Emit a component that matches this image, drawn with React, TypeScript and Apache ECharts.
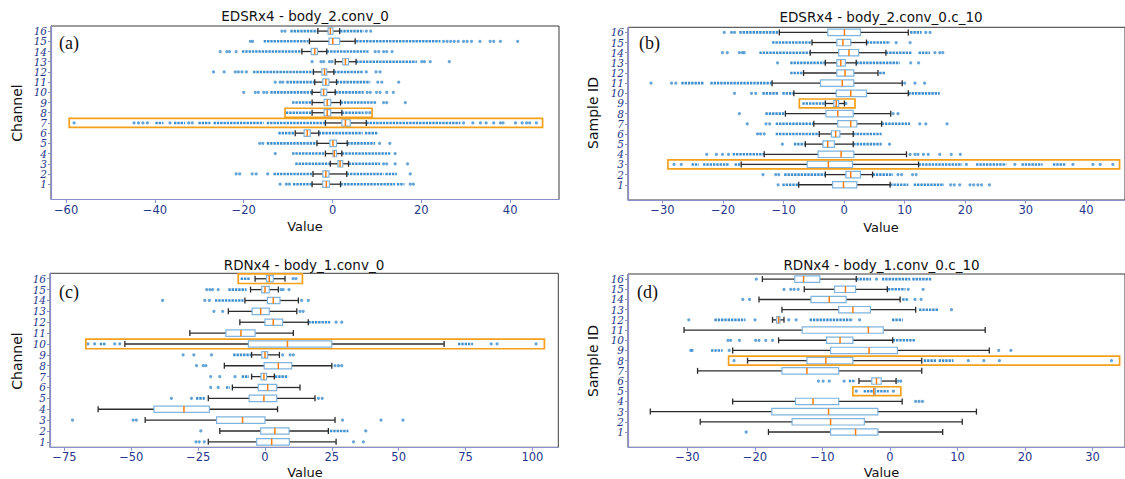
import React, { useEffect, useRef } from 'react';
import * as echarts from 'echarts';

// ---------- tick labels ----------
const rowLabels = ['1', '2', '3', '4', '5', '6', '7', '8', '9', '10', '11', '12', '13', '14', '15', '16'];
const xTicksA = [-60, -40, -20, 0, 20, 40];
const xTicksB = [-30, -20, -10, 0, 10, 20, 30, 40];
const xTicksC = [-75, -50, -25, 0, 25, 50, 75, 100];
const xTicksD = [-30, -20, -10, 0, 10, 20, 30];

// ---------- panel (a) EDSRx4 - body_2.conv_0 ----------
// [row, whiskerLow, q1, median, q3, whiskerHigh]
const boxA = [
  [16, -3.3, -1.0, -0.5, 0.1, 1.6], [15, -5.2, -0.8, 0.05, 1.6, 5.1], [14, -6.9, -4.8, -4.0, -3.4, -1.3],
  [13, 0.6, 2.3, 2.9, 3.6, 5.3], [12, -4.3, -2.4, -1.8, -1.3, 0.3], [11, -4.0, -2.2, -1.5, -0.8, 0.9],
  [10, -4.6, -2.6, -2.0, -1.3, 0.6], [9, -4.6, -1.9, -1.2, -0.4, 1.8], [8, -4.6, -1.9, -1.2, -0.4, 2.1],
  [7, -1.6, 2.1, 2.9, 4.0, 7.6], [6, -8.4, -6.4, -5.7, -5.0, -3.1], [5, -3.5, -0.6, 0.1, 0.9, 3.3],
  [4, -1.6, 0.1, 0.4, 0.9, 2.1], [3, -0.5, 1.2, 1.7, 2.3, 3.6], [2, -4.4, -2.2, -1.5, -0.8, 3.2],
  [1, -4.6, -2.2, -1.4, -0.7, 1.8],
];
// dense runs of outliers: [row, from, to]
const runsA = [
  [16, -9.5, -3.3], [16, 1.7, 7.0], [15, -15.5, -5.4], [15, 5.3, 24.3], [14, -20.4, -6.9], [14, -1.3, 8.1],
  [13, 5.3, 19.0], [12, -17.9, -4.3], [12, 0.3, 6.8], [11, -10.4, -4.0], [11, 0.9, 8.5],
  [10, -14.0, -4.6], [10, 0.6, 7.0], [9, -9.1, -4.6], [9, 1.8, 10.0], [8, -10.5, -4.6], [8, 2.1, 7.0],
  [7, -39.9, -38.1], [7, -35.7, -33.2], [7, -30.2, -27.5], [7, -26.8, -15.5], [7, -14.8, -1.6], [7, 7.6, 28.8],
  [6, -12.2, -8.4], [6, -3.1, 6.8], [6, 7.3, 10.3], [5, -14.8, -3.5], [5, 3.3, 9.6],
  [4, -9.1, -1.6], [4, 2.1, 13.0], [3, -8.4, -0.5], [3, 3.6, 10.7],
  [2, -13.3, -4.4], [2, 3.2, 11.5], [2, 11.9, 14.5], [1, -8.9, -4.6], [1, 1.8, 14.1], [1, 14.5, 16.2],
];
// single outliers: [row, value]
const pointsA = [
  [16, -11.4], [16, -10.7], [16, 7.6], [16, 8.6],
  [15, -18.5], [15, -18.0], [15, 25.0], [15, 25.8], [15, 26.6], [15, 27.4], [15, 28.3], [15, 29.5], [15, 30.3],
  [15, 31.3], [15, 33.2], [15, 35.5], [15, 36.3], [15, 37.8], [15, 41.7],
  [14, -25.3], [14, -23.8], [14, -23.2], [14, -21.7], [14, 9.6], [14, 10.4], [14, 11.5], [14, 12.2], [14, 13.4],
  [13, -4.6], [13, -2.6], [13, -2.0], [13, -0.7], [13, -0.1], [13, 20.1], [13, 20.7], [13, 22.0], [13, 26.3],
  [12, -26.8], [12, -24.4], [12, -21.9], [12, -21.2], [12, -20.4], [12, -19.4], [12, 7.6], [12, 9.8], [12, 10.7],
  [11, -12.9], [11, -11.8], [11, -11.2], [11, 10.2], [11, 11.1], [11, 14.9],
  [10, -20.0], [10, -17.4], [10, -16.7], [10, -15.5], [10, -14.8], [10, 7.8], [10, 8.5], [10, 9.9], [10, 10.7], [10, 12.2], [10, 13.7],
  [9, 11.5], [9, 12.2], [9, 16.4], [8, 7.6], [8, 8.4],
  [7, -58.2], [7, -44.7], [7, -43.7], [7, -42.7], [7, -41.7], [7, -36.6], [7, -32.4], [7, -31.6],
  [7, 29.5], [7, 31.6], [7, 33.3], [7, 34.6], [7, 36.3], [7, 37.8], [7, 38.4], [7, 41.2], [7, 42.7], [7, 43.7], [7, 44.4], [7, 45.9],
  [5, -16.4], [5, -15.7], [5, 10.6], [5, 12.9], [4, -12.9], [4, 14.1],
  [3, 11.5], [3, 12.2], [3, 14.1], [3, 16.9],
  [2, -21.7], [2, -20.9], [2, -18.1], [2, -17.2], [2, -14.6], [2, 17.5],
  [1, -11.8], [1, -10.4], [1, -9.7], [1, 17.5], [1, 18.2],
];
const highlightA = [[8, -10.7, 8.9], [7, -59.3, 47.3]];

// ---------- panel (b) EDSRx4 - body_2.conv_0.c_10 ----------
const boxB = [
  [16, -10.7, -2.7, 0.05, 2.7, 10.6], [15, -5.3, -1.2, -0.2, 1.1, 3.7], [14, -5.6, -0.9, 0.8, 2.4, 6.9],
  [13, -3.1, -1.2, -0.55, 0.2, 2.0], [12, -6.7, -1.2, 0.15, 1.6, 5.6], [11, -11.9, -3.9, -0.3, 1.6, 9.6],
  [10, -8.3, -1.3, 1.1, 3.7, 10.6], [9, -3.1, -1.7, -1.3, -0.9, 0.05], [8, -9.7, -3.0, -1.05, 1.5, 7.7],
  [7, -5.0, -1.05, 1.1, 2.1, 6.2], [6, -4.1, -2.1, -1.4, -0.7, 1.5], [5, -6.4, -3.5, -2.7, -1.6, 1.5],
  [4, -13.2, -4.3, -0.5, 1.6, 10.3], [3, -17.0, -6.1, -2.6, 1.4, 12.3], [2, -3.1, 0.3, 1.1, 2.7, 4.7],
  [1, -7.5, -1.9, -0.1, 2.1, 7.6],
];
const runsB = [
  [16, -17.3, -10.7], [16, 10.9, 12.8], [15, -11.9, -5.3], [15, 3.7, 7.6],
  [14, -14.0, -5.6], [14, 6.9, 11.2], [14, 12.3, 14.2], [13, -8.9, -3.1], [13, 2.0, 9.2],
  [12, -8.9, -6.7], [12, 5.8, 6.8], [11, -26.9, -23.1], [11, -22.1, -11.9],
  [10, -13.5, -10.8], [10, -10.2, -8.3], [10, 10.6, 15.8], [9, -6.9, -3.1], [8, -13.0, -9.7],
  [7, -11.3, -5.0], [7, 6.2, 10.9], [6, -11.3, -4.1], [6, 1.5, 6.2], [5, -8.3, -6.4], [5, 1.5, 6.2],
  [4, -18.4, -13.2], [3, -25.2, -24.0], [3, -23.3, -19.0], [3, -18.1, -17.0], [3, 12.3, 19.5],
  [3, 21.8, 26.8], [3, 29.3, 32.8], [3, 34.5, 36.7], [2, -9.9, -3.1], [2, 4.7, 8.1],
  [1, -10.2, -7.5], [1, 7.6, 10.6], [1, 11.5, 16.5],
];
const pointsB = [
  [16, -19.8], [16, -18.6], [16, -18.1], [16, 13.5], [16, 14.2], [15, 8.6], [15, 10.9],
  [14, -20.1], [14, -19.3], [14, -17.3], [14, -16.8], [14, -16.5], [14, 15.0], [14, 15.8], [14, 16.3],
  [13, -11.0], [13, 11.0], [13, 12.3],
  [11, -31.9], [11, -28.5], [11, -27.8], [11, 10.0], [11, 11.7], [11, 13.3],
  [10, -18.1], [10, -15.3], [10, -14.6], [9, 0.3], [8, -17.3], [8, 8.1], [8, 8.9],
  [7, -16.0], [7, -12.9], [7, -12.3], [7, 12.5], [7, 13.5], [7, 17.0],
  [6, -14.3], [6, -13.8], [6, -13.2], [5, -10.2], [5, 7.5],
  [4, -22.7], [4, -21.1], [4, -20.1], [4, -19.1], [4, 10.9], [4, 11.7], [4, 12.2], [4, 13.1], [4, 13.9], [4, 15.8], [4, 17.7], [4, 19.2],
  [3, -28.1], [3, -26.9], [3, 20.2], [3, 28.2], [3, 37.8], [3, 41.1], [3, 42.3], [3, 44.4],
  [2, -13.4], [2, -11.3], [2, -10.8], [2, 8.9], [2, 9.5], [2, 11.3], [2, 11.9],
  [1, -10.9], [1, 17.6], [1, 18.2], [1, 19.1], [1, 20.8], [1, 21.4], [1, 22.1], [1, 22.7], [1, 24.0],
];
const highlightB = [[9, -7.4, 1.8], [3, -29.1, 45.5]];

// ---------- panel (c) RDNx4 - body_1.conv_0 ----------
const boxC = [
  [16, -3.7, 0.6, 1.6, 3.1, 7.5], [15, -5.4, -1.2, 0.0, 1.6, 5.0], [14, -7.5, 0.9, 3.1, 5.6, 12.5],
  [13, -13.7, -4.8, -1.6, 1.6, 11.9], [12, -9.4, 0.0, 3.1, 6.6, 16.2], [11, -28.1, -14.6, -9.0, -3.7, 10.6],
  [10, -52.4, -6.2, 8.4, 25.0, 67.0], [9, -5.0, -1.2, 0.0, 1.0, 5.4], [8, -15.2, -0.3, 5.0, 10.0, 25.0],
  [7, -5.0, -1.5, -0.4, 0.6, 3.5], [6, -12.2, -2.5, 1.0, 4.4, 13.1], [5, -21.2, -5.9, -0.4, 4.4, 18.7],
  [4, -62.4, -41.5, -30.3, -20.8, 4.7], [3, -44.8, -18.1, -8.4, 0.0, 26.2], [2, -16.9, -1.6, 3.7, 9.0, 23.7],
  [1, -21.2, -3.1, 2.5, 9.1, 26.6],
];
const runsC = [
  [16, -9.1, -5.6], [15, -13.7, -6.9], [14, -18.7, -8.0], [12, 16.2, 24.4],
  [10, -61.8, -59.3], [10, 72.2, 77.8], [9, -11.9, -5.0], [7, -8.7, -6.0], [7, 3.7, 8.7],
  [6, -14.6, -13.1], [5, -25.8, -22.5], [2, 24.3, 31.2],
];
const pointsC = [
  [16, 10.5], [16, 11.6], [15, -21.8], [15, -20.6], [15, -19.6], [15, -17.5], [15, 6.0], [15, 6.8], [15, 9.0],
  [14, -38.3], [14, -22.5], [14, -20.8], [14, 13.7], [14, 16.2], [13, -19.1], [13, -15.8], [13, 13.1], [13, 14.3],
  [12, 26.6], [12, 28.7], [10, -66.2], [10, -63.7], [10, -56.2], [10, -54.3], [10, 84.6], [10, 86.8], [10, 101.4],
  [9, -30.6], [9, -26.6], [9, -20.0], [9, 6.6], [9, 9.4], [9, 10.6],
  [8, -25.6], [8, -23.1], [8, -22.1], [8, 26.2], [8, 27.5], [8, 28.7],
  [7, -20.3], [7, -16.9], [7, -11.2], [6, -20.3], [6, -17.5], [5, -35.0], [5, -27.5], [5, 20.0], [5, 21.4],
  [3, -72.0], [3, -49.3], [3, -48.1], [3, 29.0], [3, 43.4], [3, 51.6], [2, -24.0], [2, 37.7],
  [1, -25.8], [1, -24.6], [1, -22.7], [1, 33.1], [1, 36.8],
];
const highlightC = [[16, -10.0, 14.0], [10, -67.0, 104.5]];

// ---------- panel (d) RDNx4 - body_1.conv_0.c_10 ----------
const boxD = [
  [16, -18.9, -14.1, -12.8, -10.4, -5.0], [15, -12.7, -8.2, -6.6, -5.1, -0.4], [14, -19.4, -11.7, -9.0, -6.5, 1.5],
  [13, -16.0, -7.6, -5.5, -2.9, 3.8], [12, -17.4, -16.8, -16.5, -16.3, -15.7], [11, -30.5, -13.0, -3.2, -1.0, 14.1],
  [10, -16.5, -9.4, -7.4, -5.5, 0.4], [9, -23.3, -8.8, -3.1, 1.1, 14.7], [8, -21.1, -12.3, -9.5, -5.5, 4.7],
  [7, -28.5, -16.0, -12.3, -7.6, 4.7], [6, -4.6, -2.7, -2.0, -1.3, 0.9], [5, -2.4, -2.4, -2.4, -2.4, -2.4],
  [4, -23.3, -14.0, -11.4, -7.6, 1.8], [3, -35.5, -17.5, -9.1, -1.8, 12.8], [2, -28.1, -14.5, -8.8, -3.8, 10.7],
  [1, -18.0, -8.8, -5.1, -1.8, 7.8],
];
const runsD = [
  [16, -5.0, -2.8], [16, -1.2, 3.0], [16, 3.3, 6.2], [15, -0.3, 2.3], [14, 1.8, 2.8], [13, 4.3, 7.2],
  [12, -26.0, -21.4], [12, -11.9, -5.5], [12, 0.3, 1.9], [10, 0.4, 3.8], [9, -26.5, -24.8],
  [8, 5.0, 6.9], [8, 7.2, 9.4], [6, -6.1, -5.1], [5, -3.9, -0.2],
];
const pointsD = [
  [16, -19.8], [16, -2.0], [15, -15.7], [15, -14.7], [15, -14.2], [15, -13.6], [15, 2.7], [15, 4.9],
  [14, -21.8], [14, -20.8], [14, 3.7], [14, 4.6], [13, 9.1],
  [12, -29.8], [12, -20.0], [12, -15.0], [12, -13.9], [12, -4.5],
  [10, -24.0], [10, -23.6], [10, -22.3], [10, -19.9], [10, -19.4], [10, -18.4], [10, -17.4],
  [9, -29.5], [9, -29.3], [9, -23.8], [9, 16.1], [9, 17.9],
  [8, -23.1], [8, 11.6], [8, 13.9], [8, 16.2], [8, 32.8],
  [6, -10.6], [6, -9.9], [6, -9.0], [6, -6.8], [6, 1.2], [6, 1.6], [5, -5.0], [5, 0.5],
  [4, 3.8], [4, 4.3], [4, 4.8], [1, -21.3],
];
const highlightD = [[8, -23.9, 34.0], [5, -5.5, 1.6]];

// ---------- styles ----------
const FLIER = '#3f8fce';
const BOX = '#7fb4de';
const MEDIAN = '#ff7f0e';
const WHISKER = '#2b2b2b';
const HIGHLIGHT = '#f5a01a';
const AXIS = '#8a8fcc';
const LABEL = '#27378a';

const fmt = (v: number) => (v < 0 ? '\u2212' + Math.abs(v) : String(v));

type PanelDef = {
  boxes: number[][]; runs: number[][]; points: number[][]; highlights: number[][];
  ticks: number[]; min: number; max: number; grid: any; blankRow: boolean;
  title: string; ylabel: string; tag: string;
  titlePos: number[]; xlabelPos: number[]; ylabelPos: number[]; tagPos: number[];
};

const panels: PanelDef[] = [
  {
    boxes: boxA, runs: runsA, points: pointsA, highlights: highlightA, ticks: xTicksA, min: -63.4, max: 51.0,
    grid: { left: 51, top: 26, width: 508, height: 173.5 }, blankRow: true,
    title: 'EDSRx4 - body_2.conv_0', ylabel: 'Channel', tag: '(a)',
    titlePos: [305, 16], xlabelPos: [305, 226], ylabelPos: [17, 113], tagPos: [59, 43],
  },
  {
    boxes: boxB, runs: runsB, points: pointsB, highlights: highlightB, ticks: xTicksB, min: -35.7, max: 46.4,
    grid: { left: 628, top: 27.3, width: 499, height: 172.7 }, blankRow: true,
    title: 'EDSRx4 - body_2.conv_0.c_10', ylabel: 'Sample ID', tag: '(b)',
    titlePos: [881, 16.5], xlabelPos: [881, 227], ylabelPos: [593, 113], tagPos: [639, 43],
  },
  {
    boxes: boxC, runs: runsC, points: pointsC, highlights: highlightC, ticks: xTicksC, min: -80.4, max: 109.7,
    grid: { left: 50, top: 273.3, width: 508.3, height: 174 }, blankRow: false,
    title: 'RDNx4 - body_1.conv_0', ylabel: 'Channel', tag: '(c)',
    titlePos: [304, 264.5], xlabelPos: [305, 472.5], ylabelPos: [17, 361], tagPos: [59, 292],
  },
  {
    boxes: boxD, runs: runsD, points: pointsD, highlights: highlightD, ticks: xTicksD, min: -38.8, max: 34.8,
    grid: { left: 628, top: 274, width: 499, height: 173.3 }, blankRow: true,
    title: 'RDNx4 - body_1.conv_0.c_10', ylabel: 'Sample ID', tag: '(d)',
    titlePos: [881.5, 264.5], xlabelPos: [881.5, 472.5], ylabelPos: [593, 361], tagPos: [637, 292],
  },
];

function buildOption() {
  const grids: any[] = [];
  const xAxes: any[] = [];
  const yAxes: any[] = [];
  const series: any[] = [];
  const graphics: any[] = [];

  panels.forEach((p, i) => {
    const off = p.blankRow ? 0 : -1; // category index of row r is r + off
    const cats = p.blankRow ? [''].concat(rowLabels) : rowLabels.slice();
    grids.push({ ...p.grid, show: true, borderColor: '#3a3a3a', borderWidth: 1, backgroundColor: 'transparent' });
    xAxes.push({
      gridIndex: i, type: 'value', min: p.min, max: p.max,
      axisLine: { show: true, onZero: false, lineStyle: { color: AXIS, width: 1.2 } },
      axisTick: { show: true, length: 3.5, lineStyle: { color: AXIS }, customValues: p.ticks },
      axisLabel: { customValues: p.ticks, formatter: fmt, color: LABEL, fontSize: 11.5, fontFamily: 'DejaVu Sans', margin: 4 },
      splitLine: { show: false },
    });
    yAxes.push({
      gridIndex: i, type: 'category', data: cats, boundaryGap: true,
      axisLine: { show: true, onZero: false, lineStyle: { color: AXIS, width: 1.2 } },
      axisTick: { show: true, alignWithLabel: true, length: 3, lineStyle: { color: AXIS }, interval: (_: number, v: string) => v !== '' },
      axisLabel: { interval: 0, color: LABEL, fontSize: 10.5, fontStyle: 'italic', fontFamily: 'DejaVu Serif', margin: 4 },
      splitLine: { show: false },
    });

    // dense outlier runs
    series.push({
      type: 'custom', xAxisIndex: i, yAxisIndex: i, z: 2,
      data: p.runs.map((r) => [r[0] + off, r[1], r[2]]),
      encode: { x: [1, 2], y: 0 },
      renderItem: (_: any, api: any) => {
        const y = api.value(0);
        const a = api.coord([api.value(1), y]);
        const b = api.coord([api.value(2), y]);
        return {
          type: 'line',
          shape: { x1: a[0], y1: a[1], x2: b[0], y2: b[1] },
          style: { stroke: FLIER, lineWidth: 2.6, lineDash: [2.4, 0.9], fill: null },
        };
      },
    });
    // single outliers
    series.push({
      type: 'scatter', xAxisIndex: i, yAxisIndex: i, z: 2,
      symbol: 'circle', symbolSize: 3.2,
      itemStyle: { color: FLIER },
      data: p.points.map((d) => [d[1], d[0] + off]),
    });
    // boxes
    series.push({
      type: 'custom', xAxisIndex: i, yAxisIndex: i, z: 3,
      data: p.boxes.map((b) => [b[0] + off, b[1], b[2], b[3], b[4], b[5]]),
      encode: { x: [1, 2, 3, 4, 5], y: 0 },
      renderItem: (_: any, api: any) => {
        const y = api.value(0);
        const lo = api.coord([api.value(1), y]);
        const q1 = api.coord([api.value(2), y]);
        const md = api.coord([api.value(3), y]);
        const q3 = api.coord([api.value(4), y]);
        const hi = api.coord([api.value(5), y]);
        const cy = lo[1];
        const bh = 3.2;
        const ch = 3;
        const ws = { stroke: WHISKER, lineWidth: 1.3 };
        return {
          type: 'group',
          children: [
            { type: 'line', shape: { x1: lo[0], y1: cy, x2: q1[0], y2: cy }, style: ws },
            { type: 'line', shape: { x1: q3[0], y1: cy, x2: hi[0], y2: cy }, style: ws },
            { type: 'line', shape: { x1: lo[0], y1: cy - ch, x2: lo[0], y2: cy + ch }, style: ws },
            { type: 'line', shape: { x1: hi[0], y1: cy - ch, x2: hi[0], y2: cy + ch }, style: ws },
            {
              type: 'rect',
              shape: { x: q1[0], y: cy - bh, width: Math.max(q3[0] - q1[0], 1.5), height: 2 * bh },
              style: { fill: '#ffffff', stroke: BOX, lineWidth: 1.2 },
            },
            { type: 'line', shape: { x1: md[0], y1: cy - bh, x2: md[0], y2: cy + bh }, style: { stroke: MEDIAN, lineWidth: 1.5 } },
          ],
        };
      },
    });
    // highlight frames
    series.push({
      type: 'custom', xAxisIndex: i, yAxisIndex: i, z: 4,
      data: p.highlights.map((h) => [h[0] + off, h[1], h[2]]),
      encode: { x: [1, 2], y: 0 },
      renderItem: (_: any, api: any) => {
        const y = api.value(0);
        const a = api.coord([api.value(1), y]);
        const b = api.coord([api.value(2), y]);
        const band = api.size([0, 1])[1];
        const h = band * 0.44;
        return {
          type: 'rect',
          shape: { x: a[0], y: a[1] - h, width: b[0] - a[0], height: 2 * h },
          style: { fill: null, stroke: HIGHLIGHT, lineWidth: 1.7 },
        };
      },
    });

    graphics.push(
      {
        type: 'text', x: p.titlePos[0], y: p.titlePos[1],
        style: { text: p.title, fontSize: 13.5, fontFamily: 'DejaVu Sans', fill: '#111', align: 'center', verticalAlign: 'middle' },
      },
      {
        type: 'text', x: p.xlabelPos[0], y: p.xlabelPos[1],
        style: { text: 'Value', fontSize: 13, fontFamily: 'DejaVu Sans', fill: '#111', align: 'center', verticalAlign: 'middle' },
      },
      {
        type: 'text', x: p.ylabelPos[0], y: p.ylabelPos[1], rotation: Math.PI / 2,
        style: { text: p.ylabel, fontSize: 14, fontFamily: 'DejaVu Sans', fill: '#111', align: 'center', verticalAlign: 'middle' },
      },
      {
        type: 'text', x: p.tagPos[0], y: p.tagPos[1], z: 10,
        style: { text: p.tag, fontSize: 18, fontFamily: 'Liberation Serif', fill: '#111', align: 'left', verticalAlign: 'middle' },
      },
    );
  });

  return {
    animation: false,
    backgroundColor: '#ffffff',
    grid: grids,
    xAxis: xAxes,
    yAxis: yAxes,
    series,
    graphic: graphics,
  };
}

export default function App() {
  const ref = useRef<HTMLDivElement>(null);
  useEffect(() => {
    if (!ref.current) return;
    const chart = echarts.init(ref.current, undefined, { renderer: 'svg' });
    chart.setOption(buildOption() as any);
    return () => chart.dispose();
  }, []);
  return (
    <div
      ref={ref}
      style={{ position: 'absolute', left: 0, top: 0, width: 1125, height: 479, background: '#fff' }}
    />
  );
}
